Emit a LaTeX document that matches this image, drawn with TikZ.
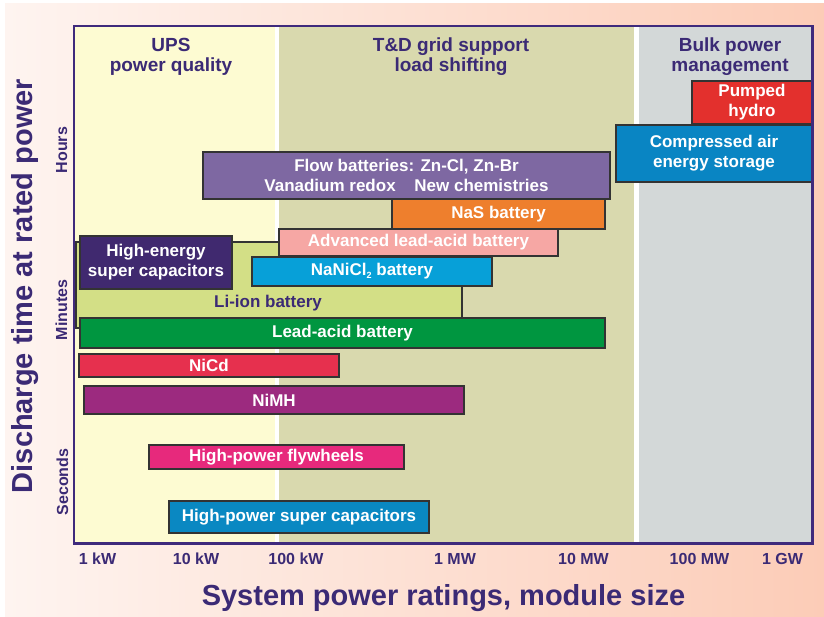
\documentclass[tikz,border=0pt]{standalone}
\usepackage{fontspec}
\setmainfont{Liberation Sans}
\definecolor{ink}{HTML}{3B2A75}
\definecolor{framec}{HTML}{3F2A7C}
\definecolor{bgl}{HTML}{FEF4F0}
\definecolor{bgr}{HTML}{FCCCB7}
\definecolor{upsc}{HTML}{FDFBD2}
\definecolor{tdc}{HTML}{D9D9AE}
\definecolor{bulkc}{HTML}{D3D8D8}
\definecolor{barline}{HTML}{333333}
\definecolor{hydroc}{HTML}{E3302D}
\definecolor{caesc}{HTML}{0985C3}
\definecolor{flowc}{HTML}{7E68A2}
\definecolor{nasc}{HTML}{EE7F2D}
\definecolor{advc}{HTML}{F6A7A4}
\definecolor{hescc}{HTML}{40296F}
\definecolor{liionc}{HTML}{D3DF86}
\definecolor{nanic}{HTML}{07A0D8}
\definecolor{leadc}{HTML}{009640}
\definecolor{nicdc}{HTML}{E6304E}
\definecolor{nimhc}{HTML}{9C2A7F}
\definecolor{flyc}{HTML}{E7297C}
\definecolor{hpscc}{HTML}{0A88C2}
\newcommand\smallsub[1]{\raisebox{-2.5pt}{\fontsize{9}{9}\selectfont #1}}
\begin{document}
\begin{tikzpicture}[x=1pt, y=-1pt,
  bar/.style={draw=barline, line width=1.2pt, text=white, inner sep=0pt,
    align=center, font=\fontsize{17}{20}\selectfont\bfseries},
  head/.style={text=ink, align=center, font=\fontsize{19}{20}\selectfont\bfseries},
  ticklabel/.style={text=ink, anchor=base, inner sep=0pt,
    font=\fontsize{16}{18}\selectfont\bfseries},
  band/.style={text=ink, rotate=90, anchor=base, inner sep=0pt,
    font=\fontsize{16}{18}\selectfont\bfseries},
  axistitle/.style={text=ink, anchor=base, inner sep=0pt,
    font=\fontsize{29}{32}\selectfont\bfseries}]
\useasboundingbox (0,0) rectangle (824,617);
% page background
\fill[white] (0,0) rectangle (824,617);
\shade[left color=bgl, right color=bgr] (5,4) rectangle (824,617);
% application bands
\fill[white] (74,26) rectangle (812,544);
\fill[upsc] (74,26) rectangle (275,544);
\fill[tdc] (279,26) rectangle (634,544);
\fill[bulkc] (639,26) rectangle (812,544);
\node[head] (ups) at (171,57) {UPS\\power quality};
\node[head] (td) at (451,57) {T\&D grid support\\load shifting};
\node[head] (bulk) at (730,57) {Bulk power\\management};
% technologies
\node[bar, fill=hydroc, minimum width=120pt, minimum height=43pt] (hydro) at (752,102.5) {Pumped\\hydro};
\node[bar, fill=caesc, minimum width=196pt, minimum height=57pt] (caes) at (714,153.5) {Compressed air\\energy storage};
\node[bar, fill=flowc, minimum width=407pt, minimum height=47pt] (flow) at (406.5,175.5)
  {Flow batteries: Zn-Cl, Zn-Br\\Vanadium redox\hspace{1.1em}New chemistries};
\node[bar, fill=nasc, minimum width=213pt, minimum height=30pt] (nas) at (498.5,214) {NaS battery};
\node[bar, draw=barline, fill=liionc, minimum width=386pt, minimum height=86pt] (liion) at (269,285) {};
\node[text=ink, font=\fontsize{17}{20}\selectfont\bfseries] (liionlabel) at (268,303) {Li-ion battery};
\node[bar, fill=advc, minimum width=279pt, minimum height=27pt] (adv) at (418.5,242.5) {Advanced lead-acid battery};
\node[bar, fill=hescc, minimum width=152pt, minimum height=53pt] (hesc) at (156,262.5) {High-energy\\super capacitors};
\node[bar, fill=nanic, minimum width=240pt, minimum height=29pt] (nanicl) at (372,271.5) {NaNiCl\smallsub{2} battery};
\node[bar, fill=leadc, minimum width=525pt, minimum height=30pt] (lead) at (342.5,333) {Lead-acid battery};
\node[bar, fill=nicdc, minimum width=260pt, minimum height=23pt] (nicd) at (209,365.5) {NiCd};
\node[bar, fill=nimhc, minimum width=380pt, minimum height=28pt] (nimh) at (274,400) {NiMH};
\node[bar, fill=flyc, minimum width=255pt, minimum height=24pt] (fly) at (276.5,457) {High-power flywheels};
\node[bar, fill=hpscc, minimum width=260pt, minimum height=32pt] (hpsc) at (299,517) {High-power super capacitors};
% plot frame
\draw[framec, line width=2.4pt] (74,26) rectangle (812.5,543.5);
% axis labels
\node[ticklabel] (kw1) at (97.5,564) {1 kW};
\node[ticklabel] (kw10) at (196,564) {10 kW};
\node[ticklabel] (kw100) at (296,564) {100 kW};
\node[ticklabel] (mw1) at (455,564) {1 MW};
\node[ticklabel] (mw10) at (583.5,564) {10 MW};
\node[ticklabel] (mw100) at (699.5,564) {100 MW};
\node[ticklabel] (gw1) at (782.5,564) {1 GW};
\node[axistitle] (xtitle) at (443.5,605) {System power ratings, module size};
\node[axistitle, rotate=90] (ytitle) at (32,286) {Discharge time at rated power};
\node[band] (hours) at (67,150) {Hours};
\node[band] (minutes) at (67,310) {Minutes};
\node[band] (seconds) at (68,482) {Seconds};
\end{tikzpicture}
\end{document}
